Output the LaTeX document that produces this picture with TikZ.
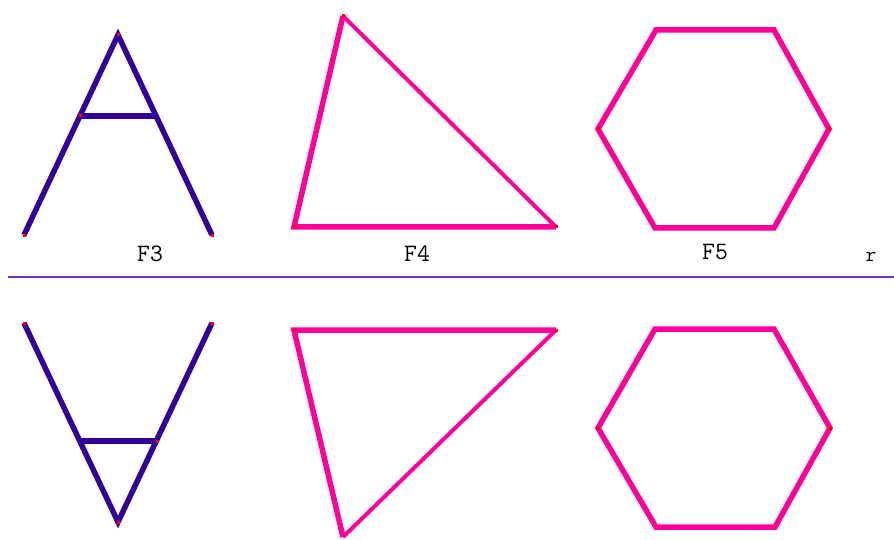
\documentclass[tikz,border=0pt]{standalone}
\usepackage{fontspec}
\definecolor{indigo}{HTML}{330099}
\definecolor{hotpink}{HTML}{FF0099}
\definecolor{axisc}{HTML}{6633CC}
\begin{document}
\begin{tikzpicture}[x=1pt,y=-1pt,
  blue/.style={draw=indigo,line width=5.5pt,line cap=butt,line join=miter},
  pink/.style={draw=hotpink,line width=5.5pt,line join=miter},
  thinpink/.style={draw=hotpink,line width=4pt},
  lbl/.style={font=\ttfamily\fontsize{25}{25}\selectfont,inner sep=0pt},
  vdot/.style={fill=red,minimum size=3pt,inner sep=0pt}]
\useasboundingbox (0,0) rectangle (894,540);
\fill[white] (0,0) rectangle (894,540);
% F3 top
\coordinate (a1) at (118,35);
\coordinate (a2) at (24,235);
\coordinate (a3) at (212,235);
\coordinate (a4) at (80,116);
\coordinate (a5) at (156,116);
\draw[blue] (a2) -- (a1) -- (a3);
\draw[blue] (a4) -- (a5);
% F3 bottom
\coordinate (b1) at (118,522);
\coordinate (b2) at (24,323);
\coordinate (b3) at (212,323);
\coordinate (b4) at (81,441);
\coordinate (b5) at (157,441);
\draw[blue] (b2) -- (b1) -- (b3);
\draw[blue] (b4) -- (b5);
% F4 top
\coordinate (c1) at (343,16);
\coordinate (c2) at (294,227);
\coordinate (c3) at (556,227);
\draw[pink] (c1) -- (c2) -- (c3);
\draw[thinpink] (c3) -- (c1);
% F4 bottom
\coordinate (d1) at (343,537);
\coordinate (d2) at (294,330);
\coordinate (d3) at (556,330);
\draw[pink] (d1) -- (d2) -- (d3);
\draw[thinpink] (d3) -- (d1);
% F5 top
\coordinate (e1) at (656,30);
\coordinate (e2) at (774,30);
\coordinate (e3) at (829,129);
\coordinate (e4) at (774,228);
\coordinate (e5) at (655,228);
\coordinate (e6) at (598,129);
\draw[pink] (e1) -- (e2) -- (e3) -- (e4) -- (e5) -- (e6) -- cycle;
% F5 bottom
\coordinate (f1) at (655,329);
\coordinate (f2) at (774,329);
\coordinate (f3) at (830,428);
\coordinate (f4) at (775,527);
\coordinate (f5) at (656,527);
\coordinate (f6) at (598,428);
\draw[pink] (f1) -- (f2) -- (f3) -- (f4) -- (f5) -- (f6) -- cycle;
% vertex marks
\foreach \p in {a1,a2,a3,a4,b1,b2,b3,b5,c1,c2,c3,d2,d3,e3,e6,f3,f6}
  \node[vdot] at (\p) {};
% axis
\coordinate (r1) at (8,277);
\coordinate (r2) at (894,277);
\draw[axisc,line width=2.4pt] (r1) -- (r2);
% labels
\node[lbl] (l3) at (150,254) {F3};
\node[lbl] (l4) at (417,254) {F4};
\node[lbl] (l5) at (715,252) {F5};
\node[lbl,font=\ttfamily\fontsize{21}{21}\selectfont] (lr) at (871,257) {r};
\end{tikzpicture}
\end{document}
